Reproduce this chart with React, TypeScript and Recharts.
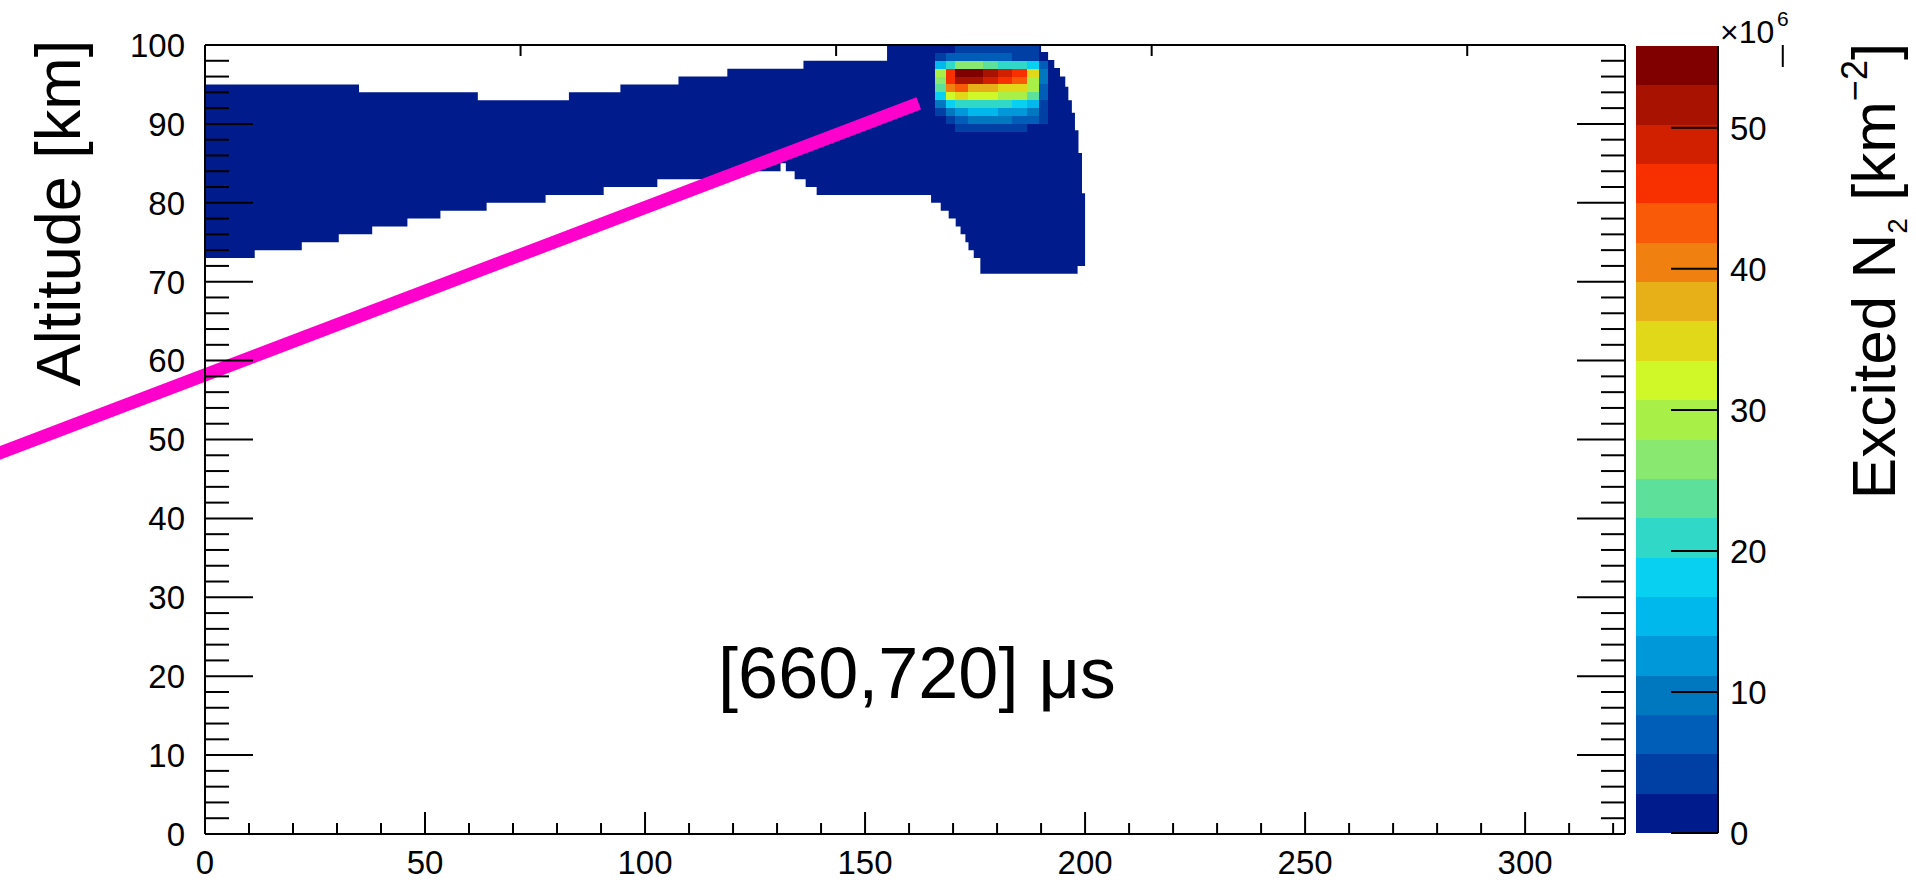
import { Area, Bar, BarChart, ComposedChart, ReferenceArea, ReferenceLine, XAxis, YAxis } from "recharts";

const FONT = '"Liberation Sans", Arial, Helvetica, sans-serif';

const X_MAX = 322.7;
const Y_MAX = 100;
const Z_MAX = 55.8; // x10^6 km^-2, top of the colour scale

const X_TICKS = [0, 10, 20, 30, 40, 50, 60, 70, 80, 90, 100, 110, 120, 130, 140, 150, 160, 170, 180, 190, 200, 210, 220, 230, 240, 250, 260, 270, 280, 290, 300, 310, 320];
const Y_TICKS = [0, 2, 4, 6, 8, 10, 12, 14, 16, 18, 20, 22, 24, 26, 28, 30, 32, 34, 36, 38, 40, 42, 44, 46, 48, 50, 52, 54, 56, 58, 60, 62, 64, 66, 68, 70, 72, 74, 76, 78, 80, 82, 84, 86, 88, 90, 92, 94, 96, 98, 100];
const Z_TICKS = [0, 10, 20, 30, 40, 50];

// ROOT-like colour levels, bottom to top
const PALETTE = [
  "#001c8c", "#0040a4", "#005eb8", "#0078c0", "#0098d8", "#00b8ec", "#08d0f0", "#30d8c8", "#5ce09a", "#88e870",
  "#a8f048", "#d0f828", "#e0d818", "#e8b018", "#f08010", "#f85a08", "#f83000", "#d02000", "#a81200", "#800000",
];

// low-density envelope: [x from, x to, altitude]
const TOP_EDGE: [number, number, number][] = [
  [0, 35, 95], [35, 62, 94], [62, 82.7, 93], [82.7, 94.4, 94], [94.4, 107.6, 95], [107.6, 118.7, 96],
  [118.7, 136, 97], [136, 155, 98], [155, 190, 100], [190, 191.6, 99.1], [191.6, 193, 98.1], [193, 194.3, 97.1],
  [194.3, 195.5, 96], [195.5, 196.2, 94.7], [196.2, 197, 93], [197, 197.7, 91.4], [197.7, 198.5, 89.2],
  [198.5, 199.3, 86.3], [199.3, 200, 81.2],
];
const BOTTOM_EDGE: [number, number, number][] = [
  [0, 11.3, 73], [11.3, 22, 74], [22, 30.4, 75], [30.4, 38, 76], [38, 46, 77], [46, 53.5, 78], [53.5, 64, 79],
  [64, 77.4, 80], [77.4, 90.6, 81], [90.6, 102.8, 82], [102.8, 117.5, 83], [117.5, 130.8, 84], [130.8, 132, 85],
  [132, 134, 84], [134, 136.5, 83], [136.5, 139, 82], [139, 165, 81], [165, 167.2, 80], [167.2, 169, 79],
  [169, 170.6, 78], [170.6, 171.7, 77], [171.7, 172.8, 76], [172.8, 173.5, 75], [173.5, 174.7, 74],
  [174.7, 176.2, 73], [176.2, 198.3, 71], [198.3, 200, 72],
];
const ENVELOPE_VALUE = 1;

// bright spot near the top
const HOT_X = [166, 168.5, 170.5, 173.5, 176.7, 180.1, 183.5, 186.9, 189.5, 191.5];
const HOT_ALT = [99, 98, 97, 96, 95, 94, 93, 92, 91, 90, 89];
const HOT_VALUES = [
  [1, 1, 4, 4, 4, 4, 4, 4, 1],
  [4, 7, 7, 7, 7, 7, 4, 4, 1],
  [15, 21, 26, 27, 24, 21, 21, 18, 7],
  [29, 46, 55, 54, 51, 48, 46, 35, 10],
  [27, 46, 52, 51, 49, 46, 43, 29, 10],
  [24, 41, 43, 38, 38, 35, 34, 29, 7],
  [18, 32, 35, 32, 32, 29, 29, 24, 7],
  [10, 18, 21, 21, 21, 21, 18, 15, 4],
  [4, 10, 13, 15, 15, 13, 13, 10, 4],
  [1, 4, 7, 10, 10, 10, 7, 7, 4],
  [1, 1, 4, 4, 4, 4, 4, 1, 1],
];

const TRACK = [
  { x: -48, y: 48.0 },
  { x: 162.2, y: 92.6 },
];

const levelWidth = Z_MAX / PALETTE.length;
const colorOf = (v: number) => PALETTE[Math.min(PALETTE.length - 1, Math.floor(v / levelWidth))];

const findStep = (steps: [number, number, number][], x: number) => {
  const s = steps.find((st) => x >= st[0] && x < st[1]);
  return s ? s[2] : 0;
};

const breaks = Array.from(new Set([...TOP_EDGE, ...BOTTOM_EDGE].flatMap((s) => [s[0], s[1]]))).sort((a, b) => a - b);
const envelope = breaks.slice(0, -1).map((x, i) => {
  const mid = (x + breaks[i + 1]) / 2;
  return { x, range: [findStep(BOTTOM_EDGE, mid), findStep(TOP_EDGE, mid)] };
});
envelope.push({ x: breaks[breaks.length - 1], range: envelope[envelope.length - 1].range });

const hotCells = HOT_VALUES.flatMap((row, r) =>
  row
    .map((v, c) => ({ x1: HOT_X[c], x2: HOT_X[c + 1], y1: HOT_ALT[r], y2: HOT_ALT[r] + 1, v }))
    .filter((cell) => colorOf(cell.v) !== colorOf(ENVELOPE_VALUE))
);

// colour bar: one stacked column, one segment per level
const scaleRow: Record<string, any> = { name: "z" };
PALETTE.forEach((_, i) => (scaleRow[`l${i}`] = levelWidth));
const scaleData = [scaleRow];

const axisLine = { stroke: "#000", strokeWidth: 2 };

function LeftTick({ x, y, payload }: any) {
  const v = payload.value;
  const major = v % 10 === 0;
  return (
    <g>
      <line x1={x} x2={x + (major ? 48 : 24)} y1={y} y2={y} stroke="#000" strokeWidth={2} />
      {major && (
        <text x={x - 20} y={y} dy="0.36em" textAnchor="end" fontSize={33} fontFamily={FONT} fill="#000">
          {v}
        </text>
      )}
    </g>
  );
}

function RightTick({ x, y, payload }: any) {
  const major = payload.value % 10 === 0;
  return <line x1={x} x2={x - (major ? 48 : 24)} y1={y} y2={y} stroke="#000" strokeWidth={2} />;
}

function BottomTick({ x, y, payload }: any) {
  const v = payload.value;
  const major = v % 50 === 0;
  return (
    <g>
      <line x1={x} x2={x} y1={y} y2={y - (major ? 22 : 11)} stroke="#000" strokeWidth={2} />
      {major && (
        <text x={x} y={y + 40} textAnchor="middle" fontSize={33} fontFamily={FONT} fill="#000">
          {v}
        </text>
      )}
    </g>
  );
}

function TopTick({ x, y, payload }: any) {
  const major = payload.value % 50 === 0;
  return <line x1={x} x2={x} y1={y} y2={y + (major ? 22 : 11)} stroke="#000" strokeWidth={2} />;
}

function ZTick({ x, y, payload }: any) {
  if (!Z_TICKS.includes(payload.value)) return <g />;
  return (
    <g>
      <line x1={x - 47} x2={x} y1={y} y2={y} stroke="#000" strokeWidth={2} />
      <text x={x + 12} y={y} dy="0.36em" textAnchor="start" fontSize={33} fontFamily={FONT} fill="#000">
        {payload.value}
      </text>
    </g>
  );
}

export default function App() {
  return (
    <div style={{ position: "relative", width: 1916, height: 882, overflow: "hidden", background: "#fff" }}>
      <style>{"body{margin:0}"}</style>
      <div style={{ position: "absolute", left: 0, top: 0 }}>
        <BarChart
          width={1916}
          height={882}
          data={scaleData}
          barCategoryGap={0}
          barGap={0}
          margin={{ top: 46, right: 98, bottom: 49, left: 1636 }}
        >
          {PALETTE.map((color, i) => (
            <Bar key={i} dataKey={`l${i}`} stackId="z" fill={color} isAnimationActive={false} shapeRendering="crispEdges" />
          ))}
          <XAxis dataKey="name" type="category" hide />
          <YAxis
            orientation="right"
            type="number"
            domain={[0, Z_MAX]}
            allowDataOverflow
            ticks={Z_TICKS}
            interval={0}
            tickSize={0}
            tickMargin={0}
            tick={ZTick}
            tickLine={false}
            axisLine={axisLine}
            width={100}
          />
        </BarChart>
      </div>

      <div style={{ position: "absolute", left: 0, top: 0 }}>
        <ComposedChart width={1916} height={882} data={envelope} margin={{ top: 40, right: 286, bottom: 8, left: 105 }}>
          <Area
            dataKey="range"
            type="stepAfter"
            fill={colorOf(ENVELOPE_VALUE)}
            fillOpacity={1}
            stroke="none"
            isAnimationActive={false}
            zIndex={100}
          />
          {hotCells.map((c, i) => (
            <ReferenceArea
              key={i}
              x1={c.x1}
              x2={c.x2}
              y1={c.y1}
              y2={c.y2}
              fill={colorOf(c.v)}
              fillOpacity={1}
              stroke="none"
              shapeRendering="crispEdges"
              ifOverflow="hidden"
              zIndex={150}
            />
          ))}
          <ReferenceLine segment={TRACK} stroke="#ff00cc" strokeWidth={13} ifOverflow="visible" zIndex={450} />
          <XAxis
            dataKey="x"
            type="number"
            domain={[0, X_MAX]}
            allowDataOverflow
            ticks={X_TICKS}
            interval={0}
            tickSize={0}
            tickMargin={0}
            tick={BottomTick}
            tickLine={false}
            axisLine={axisLine}
            height={40}
          />
          <XAxis
            xAxisId="top"
            orientation="top"
            type="number"
            domain={[0, X_MAX]}
            allowDataOverflow
            ticks={X_TICKS}
            interval={0}
            tickSize={0}
            tickMargin={0}
            tick={TopTick}
            tickLine={false}
            axisLine={axisLine}
            height={5}
          />
          <YAxis
            type="number"
            domain={[0, Y_MAX]}
            allowDataOverflow
            ticks={Y_TICKS}
            interval={0}
            tickSize={0}
            tickMargin={0}
            tick={LeftTick}
            tickLine={false}
            axisLine={axisLine}
            width={100}
          />
          <YAxis
            yAxisId="right"
            orientation="right"
            type="number"
            domain={[0, Y_MAX]}
            allowDataOverflow
            ticks={Y_TICKS}
            interval={0}
            tickSize={0}
            tickMargin={0}
            tick={RightTick}
            tickLine={false}
            axisLine={axisLine}
            width={5}
          />
        </ComposedChart>
      </div>

      <svg width={1916} height={882} style={{ position: "absolute", left: 0, top: 0, pointerEvents: "none" }}>
        <g fontFamily={FONT} fill="#000">
          <text x={917} y={698} textAnchor="middle" fontSize={72}>
            [660,720] μs
          </text>
          <text x={80} y={213} transform="rotate(-90, 80, 213)" textAnchor="middle" fontSize={63}>
            Altitude [km]
          </text>
          <text x={1720} y={43} fontSize={32}>
            ×10
          </text>
          <text x={1777} y={26} fontSize={21}>
            6
          </text>
          <g transform="rotate(-90, 1895, 271)">
            <text x={1895} y={271} textAnchor="middle" fontSize={62}>
              <tspan>Excited N</tspan>
              <tspan fontSize={28} dy={12}>2</tspan>
              <tspan dy={-12}>{" [km"}</tspan>
              <tspan fontSize={36} dy={-28}>{"\u22122"}</tspan>
              <tspan dy={28}>]</tspan>
            </text>
          </g>
        </g>
      </svg>
    </div>
  );
}
